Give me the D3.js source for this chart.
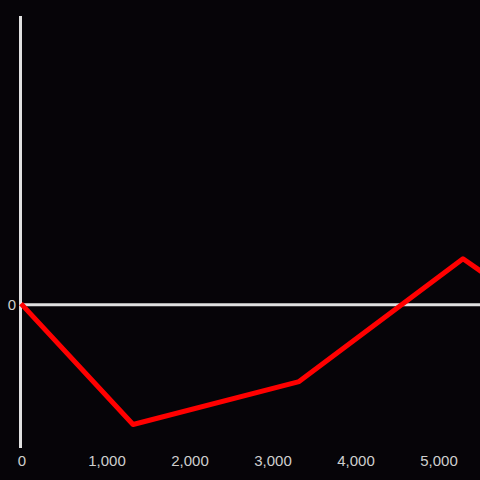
<!DOCTYPE html>
<html>
<head>
<meta charset="utf-8">
<script src="https://cdn.jsdelivr.net/npm/d3@7"></script>
<style>
  html, body { margin: 0; padding: 0; background: #060408; }
  svg { display: block; }
  .tick-label { font-family: 'Liberation Sans', Arial, sans-serif; font-size: 15px; fill: #cfcfcf; }
</style>
</head>
<body>
<div id="chart"></div>
<script>
var X_VALUES = [0, 1350, 3350, 5325, 5600]
var Y_VALUES = [0, -1.21, -0.78, 0.45, 0.29]
var X_TICKS = [0, 1000, 2000, 3000, 4000, 5000]
var Y_TICKS = [0]

var width = 480
var height = 480

var svg = d3.select('#chart')
    .append('svg')
    .attr('width', width)
    .attr('height', height)

svg.append('rect')
    .attr('width', width)
    .attr('height', height)
    .attr('fill', '#060408')

var x = d3.scaleLinear()
    .domain([0, 5000])
    .range([21, 436])

var y = d3.scaleLinear()
    .domain([-1.445, 2.88])
    .range([448, 16])

svg.append('defs').append('clipPath')
    .attr('id', 'plot-clip')
    .append('rect')
    .attr('x', 0)
    .attr('y', 0)
    .attr('width', width)
    .attr('height', height)

// y axis line
svg.append('line')
    .attr('x1', 20.5).attr('x2', 20.5)
    .attr('y1', y(2.88)).attr('y2', y(-1.445))
    .attr('stroke', '#e0e0e0')
    .attr('stroke-width', 3)

// zero line
svg.append('line')
    .attr('x1', 20).attr('x2', width)
    .attr('y1', y(0) + 1).attr('y2', y(0) + 1)
    .attr('stroke', '#e0e0e0')
    .attr('stroke-width', 3)

svg.selectAll('.x-label')
    .data(X_TICKS)
    .enter().append('text')
    .attr('class', 'tick-label')
    .attr('x', function (d) { return x(d) + (d === 0 ? 1 : 3) })
    .attr('y', 466)
    .attr('text-anchor', 'middle')
    .text(d3.format(','))

svg.selectAll('.y-label')
    .data(Y_TICKS)
    .enter().append('text')
    .attr('class', 'tick-label')
    .attr('x', 16)
    .attr('y', function (d) { return y(d) + 6 })
    .attr('text-anchor', 'end')
    .text(function (d) { return d })

var points = X_VALUES.map(function (v, i) { return [v, Y_VALUES[i]] })

var line = d3.line()
    .x(function (d) { return x(d[0]) })
    .y(function (d) { return y(d[1]) })

svg.append('path')
    .datum(points)
    .attr('clip-path', 'url(#plot-clip)')
    .attr('d', line)
    .attr('fill', 'none')
    .attr('stroke', '#ff0000')
    .attr('stroke-width', 5)
    .attr('stroke-linejoin', 'round')
</script>
</body>
</html>
